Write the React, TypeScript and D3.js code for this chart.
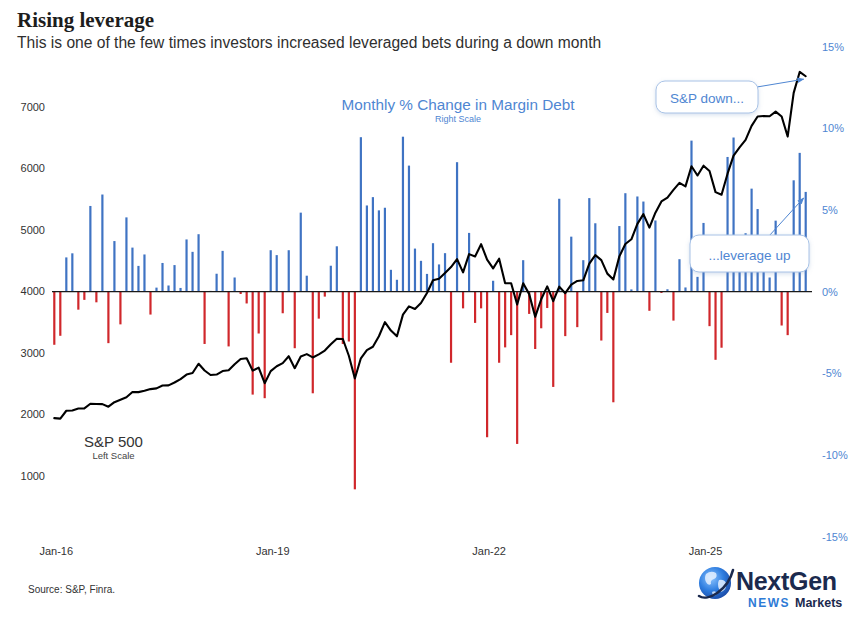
import React from 'react';
import * as d3 from 'd3';

// Month keys for every observation, Jan 2016 through Jun 2026
const monthKeys: string[] = d3
  .timeMonth.range(new Date(2016, 0, 1), new Date(2026, 6, 1))
  .map(d3.timeFormat('%Y-%m'));

// S&P 500 month-end level (left scale)
const spx: number[] = [
  1940, 1932, 2060, 2065, 2097, 2099, 2174, 2171, 2168, 2126, 2199, 2239,
  2279, 2364, 2363, 2384, 2412, 2423, 2470, 2472, 2519, 2575, 2648, 2674,
  2824, 2714, 2641, 2648, 2705, 2718, 2816, 2902, 2914, 2712, 2760, 2507,
  2704, 2784, 2834, 2946, 2752, 2942, 2980, 2926, 2977, 3038, 3141, 3231,
  3226, 2954, 2585, 2912, 3044, 3100, 3271, 3500, 3363, 3270, 3622, 3756,
  3714, 3811, 3973, 4181, 4204, 4298, 4395, 4523, 4308, 4605, 4567, 4766,
  4516, 4374, 4530, 4132, 4132, 3785, 4130, 3955, 3586, 3872, 4080, 3840,
  4077, 3970, 4109, 4169, 4180, 4450, 4589, 4508, 4288, 4194, 4568, 4770,
  4846, 5096, 5254, 5036, 5278, 5460, 5522, 5648, 5762, 5705, 6032, 5882,
  6041, 5955, 5612, 5569, 5912, 6205, 6339, 6460, 6688, 6840, 6849, 6845,
  6920, 6840, 6515, 7225, 7565, 7495,
];

// Monthly % change in margin debt (right scale)
const marginChange: number[] = [
  -3.25, -2.7, 2.1, 2.35, -1.1, -0.5, 5.25, -0.65, 5.95, -3.15, 3.1, -2.0,
  4.55, 2.7, 1.58, 2.28, -1.4, 0.25, 1.76, 0.38, 1.63, 0.23, 3.2, 2.44,
  3.52, -3.2, 0.05, 1.1, 2.5, -3.35, 0.87, -0.14, -0.72, -6.3, -2.56, -6.52,
  2.54, 2.24, -1.32, 2.54, -3.46, 4.84, 0.98, -6.22, -1.65, -0.3, 1.59, 2.78,
  -3.2, -3.05, -12.1, 9.46, 5.28, 5.79, 4.98, 5.14, 1.34, 0.73, 9.49, 7.72,
  2.64, 1.89, 1.09, 2.97, 1.67, 2.36, -4.35, 7.93, -1.02, 3.6, -1.91, -1.02,
  -8.91, 0.67, -4.35, -3.41, -2.66, -9.32, 1.93, -1.36, -3.51, -2.24, -1.0, -5.83,
  5.69, -2.72, 3.37, -2.17, 1.93, 5.73, 4.19, -2.99, -1.3, -6.77, 4.02, 6.03,
  0.14, 5.83, 5.52, -1.17, 4.36, -0.08, 0.15, -1.77, 1.99, 0.26, 9.25, 0.91,
  4.21, -2.11, -4.17, -3.43, 8.25, 9.44, 3.0, 3.58, 6.31, 5.06, 2.5, 0.87,
  4.35, -2.07, -2.66, 6.82, 8.5, 6.11,
];

const leftTicks: number[] = [1000, 2000, 3000, 4000, 5000, 6000, 7000];
const rightTicks: number[] = [-15, -10, -5, 0, 5, 10, 15];
const xTickKeys: string[] = ['2016-01', '2019-01', '2022-01', '2025-01'];
const xTickLabels: string[] = ['Jan-16', 'Jan-19', 'Jan-22', 'Jan-25'];

const W = 860;
const H = 617;
const SANS = '"Liberation Sans", Arial, Helvetica, sans-serif';
const BLUE = '#3f73c3';
const RED = '#d0272b';
const LABEL_BLUE = '#4f86d2';

export default function App() {
  const x = d3.scalePoint<string>().domain(monthKeys).range([54.3, 805.7]);
  const yL = d3.scaleLinear().domain([1000, 7000]).range([476, 106.7]);
  const yR = d3.scaleLinear().domain([-15, 15]).range([536.7, 46.7]);
  const zero = yR(0);

  const spxLine = d3
    .line<number>()
    .x((_, i) => x(monthKeys[i]) as number)
    .y((v) => yL(v));

  const lastKey = monthKeys[monthKeys.length - 1];
  const lastX = x(lastKey) as number;

  return (
    <svg
      width={W}
      height={H}
      viewBox={`0 0 ${W} ${H}`}
      style={{ position: 'absolute', left: 0, top: 0, display: 'block', background: '#fff' }}
      fontFamily={SANS}
    >
      <defs>
        <filter id="boxShadow" x="-20%" y="-30%" width="140%" height="170%">
          <feDropShadow dx="0" dy="1.5" stdDeviation="2" floodColor="#6b8fbf" floodOpacity="0.28" />
        </filter>
        <marker id="arrowHead" viewBox="0 0 10 10" refX="9" refY="5" markerWidth="7" markerHeight="7" orient="auto">
          <path d="M0,1 L10,5 L0,9 Z" fill={LABEL_BLUE} />
        </marker>
        <radialGradient id="globeFill" cx="38%" cy="35%" r="70%">
          <stop offset="0%" stopColor="#8cc4ff" />
          <stop offset="55%" stopColor="#2f7ee0" />
          <stop offset="100%" stopColor="#1a4aa6" />
        </radialGradient>
      </defs>

      <rect x={0} y={0} width={W} height={H} fill="#fff" />

      {/* Headline */}
      <text x={17} y={27} fontFamily='"Liberation Serif", "Times New Roman", serif' fontWeight={700} fontSize={21} fill="#1d1d1d">
        Rising leverage
      </text>
      <text x={17} y={48} fontSize={15.6} fill="#2f2f2f">
        This is one of the few times investors increased leveraged bets during a down month
      </text>

      {/* Left scale: S&P 500 */}
      {leftTicks.map((t) => (
        <text key={`l${t}`} x={45} y={yL(t) + 4} textAnchor="end" fontSize={11} fill="#333">
          {t}
        </text>
      ))}

      {/* Right scale: margin debt % change */}
      {rightTicks.map((t) => (
        <text key={`r${t}`} x={822} y={yR(t) + 4} textAnchor="start" fontSize={11} fill={LABEL_BLUE}>
          {`${t}%`}
        </text>
      ))}

      {/* Month axis labels */}
      {xTickKeys.map((k, i) => (
        <text key={k} x={(x(k) as number) + 2} y={555} textAnchor="middle" fontSize={11} fill="#333">
          {xTickLabels[i]}
        </text>
      ))}

      {/* Margin debt bars */}
      {marginChange.map((v, i) => {
        const xi = x(monthKeys[i]) as number;
        return (
          <line
            key={`b${i}`}
            x1={xi}
            x2={xi}
            y1={zero}
            y2={yR(v)}
            stroke={v >= 0 ? BLUE : RED}
            strokeWidth={2.2}
          />
        );
      })}

      {/* Zero baseline */}
      <line x1={52} x2={812} y1={zero} y2={zero} stroke="#1a1a1a" strokeWidth={1.2} />

      {/* S&P 500 line */}
      <path d={spxLine(spx) ?? ''} fill="none" stroke="#000" strokeWidth={2.1} strokeLinejoin="round" strokeLinecap="round" />

      {/* Series titles */}
      <text x={458} y={109.5} textAnchor="middle" fontSize={15.3} fill={LABEL_BLUE}>
        Monthly % Change in Margin Debt
      </text>
      <text x={458} y={121.5} textAnchor="middle" fontSize={9} fill={LABEL_BLUE}>
        Right Scale
      </text>
      <text x={113.5} y={447} textAnchor="middle" fontSize={15} fill="#333">
        S&amp;P 500
      </text>
      <text x={113.5} y={459} textAnchor="middle" fontSize={9.5} fill="#444">
        Left Scale
      </text>

      {/* Callouts */}
      <line
        x1={757}
        y1={87}
        x2={lastX - 2}
        y2={yL(spx[spx.length - 1]) + 3}
        stroke={LABEL_BLUE}
        strokeWidth={1}
        markerEnd="url(#arrowHead)"
      />
      <rect x={656} y={81} width={102} height={32} rx={9} fill="#fff" stroke="#a8c2e6" strokeWidth={1} filter="url(#boxShadow)" />
      <text x={707} y={103} textAnchor="middle" fontSize={13.5} fill={LABEL_BLUE}>
        S&amp;P down...
      </text>

      <line
        x1={769}
        y1={236}
        x2={lastX - 2}
        y2={yR(marginChange[marginChange.length - 1]) + 6}
        stroke={LABEL_BLUE}
        strokeWidth={1}
        markerEnd="url(#arrowHead)"
      />
      <rect x={690} y={235} width={119} height={37} rx={9} fill="#fff" stroke="#a8c2e6" strokeWidth={1} filter="url(#boxShadow)" />
      <text x={749.5} y={259.5} textAnchor="middle" fontSize={13.5} fill={LABEL_BLUE}>
        ...leverage up
      </text>

      {/* Source */}
      <text x={28} y={593} fontSize={10} fill="#333">
        Source: S&amp;P, Finra.
      </text>

      {/* Brand mark */}
      <g>
        <circle cx={715} cy={583} r={16} fill="url(#globeFill)" />
        <path d="M706,574 q5,-4 10,-1 q2,4 -2,6 q-4,1 -3,5 q-3,2 -5,-2 q-2,-4 0,-8 z" fill="#e6f1ff" opacity={0.85} />
        <path d="M719,580 q5,-1 7,3 q1,5 -3,8 q-3,2 -4,-2 q-2,-5 0,-9 z" fill="#e6f1ff" opacity={0.85} />
        <path d="M712,592 q3,-2 5,1 q-1,3 -4,3 z" fill="#e6f1ff" opacity={0.8} />
        <path d="M699,596 C708,602 728,590 733,570" fill="none" stroke="#1b2a4e" strokeWidth={2.6} strokeLinecap="round" />
        <text x={736} y={590} fontSize={25} fontWeight={700} fill="#1b2a4e" letterSpacing={-0.3}>
          NextGen
        </text>
        <text x={748} y={607} fontSize={12} fontWeight={700} fill="#2e7bd6" letterSpacing={1.5}>
          NEWS
        </text>
        <text x={795} y={607} fontSize={12.5} fontWeight={700} fill="#1b2a4e">
          Markets
        </text>
      </g>
    </svg>
  );
}
